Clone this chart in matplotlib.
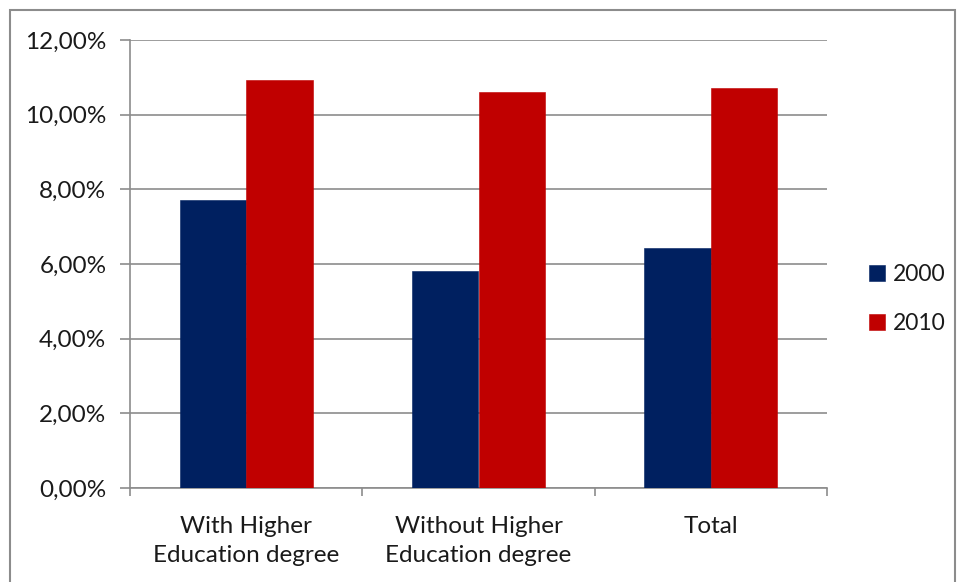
import numpy as np
import matplotlib as mpl
mpl.use("Agg")
import matplotlib.pyplot as plt
from matplotlib.patches import Rectangle
from matplotlib.ticker import FuncFormatter, MultipleLocator

categories = ["With Higher\nEducation degree", "Without Higher\nEducation degree", "Total"]
years = ["2000", "2010"]
share_2000 = [7.72, 5.80, 6.42]
share_2010 = [10.93, 10.62, 10.72]
colors = ["#002060", "#C00000"]

plt.rcParams["font.family"] = ["Lato", "DejaVu Sans"]

fig = plt.figure(figsize=(9.6, 5.82), dpi=100)
ax = fig.add_axes([130 / 960, 94 / 582, 697 / 960, 448 / 582])

x = np.arange(len(categories))
w = 1 / 3.5
ax.bar(x - w / 2, share_2000, w, color=colors[0], label=years[0], zorder=3,
       edgecolor=colors[0], lw=0.4)
ax.bar(x + w / 2, share_2010, w, color=colors[1], label=years[1], zorder=3,
       edgecolor=colors[1], lw=0.4)

grid_c = "#8c8c8c"
txt_c = "#1a1a1a"
fs = 17.5
ax.set_ylim(0, 12)
ax.set_xlim(-0.5, len(categories) - 0.5)
ax.yaxis.set_major_locator(MultipleLocator(2))
ax.yaxis.set_major_formatter(FuncFormatter(lambda v, _: f"{v:.2f}%".replace(".", ",")))
ax.grid(axis="y", color=grid_c, lw=1.2, zorder=0)

# category boundaries carry the x ticks, labels sit in the middle
ax.set_xticks(np.arange(-0.5, len(categories), 1))
ax.set_xticklabels([])
ax.set_xticks(x, minor=True)
ax.set_xticklabels(categories, minor=True, fontsize=fs, color=txt_c, linespacing=1.5)
ax.tick_params(axis="x", which="minor", length=0, pad=20)
ax.tick_params(axis="x", which="major", length=6, width=1.2, color=grid_c, direction="out")
ax.tick_params(axis="y", length=7, width=1.2, color=grid_c, labelsize=fs, labelcolor=txt_c, pad=10)

for s in ["top", "right"]:
    ax.spines[s].set_visible(False)
for s in ["left", "bottom"]:
    ax.spines[s].set_color(grid_c)
    ax.spines[s].set_linewidth(1.2)

fig.legend(loc="center left", bbox_to_anchor=(869 / 960, 1 - 299 / 582), frameon=False,
           borderpad=0, borderaxespad=0, fontsize=16.5, handlelength=0.7, handleheight=0.7,
           handletextpad=0.35, labelspacing=1.2, labelcolor=txt_c)

fig.patches.append(Rectangle((10 / 960, -0.02), 945 / 960, 1.02 - 10 / 582, transform=fig.transFigure,
                             fill=False, edgecolor="#8c8c8c", lw=1.5))

fig.savefig("out.png", dpi=100)
